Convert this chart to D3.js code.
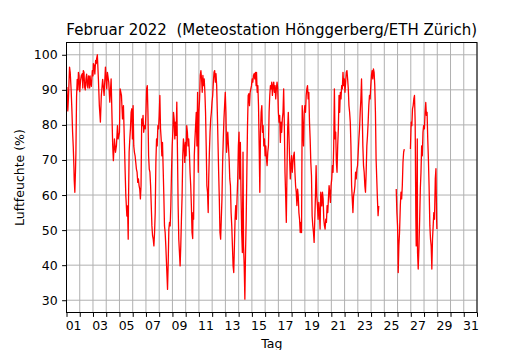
<!DOCTYPE html>
<html>
<head>
<meta charset="utf-8">
<script src="https://cdn.jsdelivr.net/npm/d3@7/dist/d3.min.js"></script>
<style>
  body { margin: 0; background: #fff; }
  svg { font-family: "DejaVu Sans", sans-serif; }
</style>
</head>
<body>
<svg id="chart" width="530" height="350"></svg>
<script>
// Zeit in Tagen ab 1. Februar 00:00, null = Messlücke
const zeit = [
  0.03, 0.10, 0.15, 0.23, 0.28, 0.35, 0.41, 0.46, 0.51, 0.56, 0.58, 0.63, 0.68, 0.71, 0.76, 0.81,
  0.86, 0.90, 0.94, 1.00, 1.06, 1.12, 1.19, 1.23, 1.27, 1.32, 1.37, 1.42, 1.47, 1.52, 1.57, 1.62,
  1.66, 1.70, 1.75, 1.78, 1.82, 1.88, 1.95, 2.00, 2.03, 2.08, 2.14, 2.20, 2.25, 2.28, 2.33, 2.41,
  2.48, 2.56, 2.63, 2.73, 2.84, 2.94, 3.04, 3.09, 3.19, 3.27, 3.37, 3.44, 3.49, 3.54, 3.62, 3.70,
  3.77, 3.85, 3.90, 4.00, 4.05, 4.15, 4.23, 4.30, 4.38, 4.43, 4.48, 4.56, 4.61, 4.66,
  4.68, 4.73, 4.78, 4.83, 4.88, 4.93, 4.98, 5.03, 5.08, 5.13, 5.18, 5.23, 5.28, 5.33, 5.38, 5.43,
  5.48, 5.53, 5.58, 5.63, 5.68, 5.73, 5.78, 5.83, 5.88, 5.95, 6.00, 6.05, 6.10, 6.15, 6.20, 6.25,
  6.30, 6.35, 6.40, 6.45, 6.50, 6.55, 6.60, 6.65, 6.70, 6.75, 6.80, 6.85, 6.90, 6.95, 7.00, 7.05,
  7.10, 7.15, 7.20, 7.25, 7.30, 7.35, 7.40, 7.45, 7.50, 7.55, 7.60, 7.63, 7.68, 7.73, 7.78, 7.83,
  7.88, 7.93, 7.98, 8.03, 8.08, 8.13, 8.18, 8.23, 8.28, 8.33, 8.38, 8.43, 8.48, 8.53, 8.58, 8.63,
  8.68, 8.73, 8.78, 8.83, 8.88, 8.93, 8.98, 9.03, 9.08, 9.13, 9.18, 9.23, 9.28, 9.33, 9.38, 9.43,
  9.48, 9.53, 9.55, 9.60, 9.65, 9.70, 9.75, 9.80, 9.85, 9.90, 9.95, 10.00, 10.05, 10.10, 10.15, 10.20,
  10.25, 10.30, 10.35, 10.40, 10.45, 10.50, 10.55, 10.60, 10.65, 10.70, 10.74, 10.79, 10.84, 10.89, 10.94, 10.99,
  11.04, 11.09, 11.14, 11.19, 11.24, 11.29, 11.34, 11.39, 11.44, 11.49, 11.54, 11.59, 11.64, 11.69, 11.74, 11.79,
  11.84, 11.89, 11.94, 11.99, 12.04, 12.09, 12.14, 12.18, 12.23, 12.28, 12.33, 12.38, 12.43, 12.48, 12.53, 12.58,
  12.63, 12.68, 12.73, 12.78, 12.83, 12.88, 12.93, 12.98, 13.03, 13.08, 13.13, 13.18, 13.23, 13.28, 13.33, 13.37,
  13.42, 13.47, 13.52, 13.57, 13.62, 13.67, 13.72, 13.77, 13.82, 13.87, 13.92, 13.97, 14.02, 14.07, 14.12, 14.17,
  14.22, 14.27, 14.32, 14.35, 14.40, 14.45, 14.50, 14.55, 14.60, 14.65, 14.70, 14.75, 14.80, 14.85, 14.90, 14.95,
  15.00, 15.05, 15.10, 15.15, 15.20, 15.25, 15.30, 15.35, 15.40, 15.45, 15.50, 15.55, 15.60, 15.65, 15.70, 15.75,
  15.80, 15.85, 15.90, 15.95, 16.00, 16.05, 16.10, 16.15, 16.20, 16.25, 16.30, 16.35, 16.40, 16.45, 16.50, 16.55,
  16.60, 16.65, 16.70, 16.75, 16.80, 16.85, 16.90, 16.95, 17.00, 17.05, 17.10, 17.15, 17.20, 17.25, 17.30, 17.35,
  17.40, 17.45, 17.50, 17.55, 17.60, 17.65, 17.70, 17.75, 17.80, 17.85, 17.90, 17.95, 18.00, 18.05, 18.10, 18.15,
  18.20, 18.25, 18.30, 18.35, 18.40, 18.45, 18.50, 18.55, 18.60, 18.65, 18.70, 18.75, 18.80, 18.85, 18.90, 18.95,
  19.00, 19.05, 19.10, 19.15, 19.20, 19.23, 19.28, 19.33, 19.38, 19.43, 19.48, 19.53, 19.58, 19.63, 19.68, 19.73,
  19.78, 19.83, 19.88, 19.93, 19.98, 20.03, 20.08, 20.13, 20.18, 20.23, 20.28, 20.33, 20.38, 20.43, 20.48, 20.53,
  20.58, 20.63, 20.68, 20.73, 20.78, 20.83, 20.88, 20.93, 20.98, 21.03, 21.08, 21.13, 21.18, 21.23, 21.28, 21.33,
  21.38, 21.43, 21.48, 21.53, 21.58, 21.63, 21.68, 21.73, 21.78, 21.83, 21.88, 21.93, 21.98, 22.03, 22.08, 22.13,
  22.18, 22.23, 22.28, 22.33, 22.38, 22.43, 22.48, 22.53, 22.58, 22.63, 22.68, 22.73, 22.78, 22.83, 22.88, 22.93,
  22.98, 23.03, 23.08, 23.13, 23.18, 23.23, 23.28, 23.33, 23.38, 23.43, 23.48, 23.53, 23.58,
  24.20,
  24.90, 24.95, 25.00, 25.03, 25.05, 25.10, 25.15, 25.21, 25.26, 25.31, 25.36, 25.41, 25.46, 25.51,
  25.75,
  25.97, 26.03, 26.08, 26.13, 26.18, 26.23, 26.28, 26.33, 26.36, 26.38, 26.41, 26.44, 26.49, 26.51, 26.56, 26.62,
  26.67, 26.72, 26.77, 26.82, 26.87, 26.92, 26.97, 27.03, 27.08, 27.13, 27.18, 27.23, 27.28, 27.33, 27.38, 27.44,
  27.49, 27.54, 27.59, 27.64, 27.69, 27.74, 27.79, 27.85, 27.90, 27.95, 27.97
];

// relative Luftfeuchte in %
const feuchte = [
  90.8, 84.0, 88.0, 96.5, 95.0, 90.0, 84.0, 78.0, 73.8, 68.0, 64.5, 60.8, 67.0, 72.0, 88.0, 93.0,
  90.0, 95.0, 94.1, 89.5, 92.6, 94.0, 94.6, 90.5, 95.5, 95.0, 90.8, 90.0, 93.1, 94.5, 91.2, 90.5,
  94.0, 93.6, 90.5, 94.0, 92.2, 91.0, 95.5, 94.0, 97.5, 97.0, 94.5, 98.4, 97.5, 99.0, 100.0, 93.0,
  85.5, 80.8, 88.4, 93.0, 88.4, 96.5, 90.3, 95.0, 92.2, 86.5, 93.1, 81.7, 74.0, 69.8, 76.0, 72.2,
  74.0, 79.8, 76.0, 77.9, 90.3, 88.4, 81.7, 85.5, 74.0, 66.5, 59.8, 54.0, 56.9, 47.4,
  57.0, 72.2, 76.0, 79.0, 83.6, 84.6, 76.0, 85.5, 74.0, 72.2, 71.2, 69.3, 67.4, 66.5, 63.6, 64.6,
  62.7, 61.7, 58.9, 62.7, 81.7, 79.8, 82.7, 77.9, 79.8, 78.9, 83.6, 90.3, 91.2, 83.6, 71.2, 67.4,
  66.5, 62.7, 57.0, 51.2, 48.4, 47.4, 45.5, 49.3, 55.0, 69.3, 76.0, 74.0, 79.8, 78.9, 82.7, 88.4,
  78.9, 76.0, 71.2, 75.0, 67.4, 60.0, 51.2, 49.3, 45.5, 40.7, 36.0, 33.1, 40.7, 50.3, 52.2, 51.2,
  57.0, 66.5, 74.0, 77.9, 83.6, 81.7, 76.0, 80.8, 77.0, 86.5, 72.2, 57.0, 47.4, 43.6, 39.8, 45.5,
  53.1, 59.8, 71.2, 76.0, 74.0, 69.3, 75.0, 71.2, 79.8, 77.9, 74.0, 76.0, 72.2, 66.5, 62.7, 57.0,
  49.3, 47.6, 55.0, 53.1, 71.2, 76.0, 79.8, 83.6, 74.0, 89.3, 66.5, 83.6, 87.4, 94.1, 95.5, 93.1,
  89.3, 94.1, 91.2, 93.1, 89.3, 83.6, 74.0, 62.7, 60.8, 55.0, 64.6, 72.2, 77.9, 81.7, 83.6, 86.5,
  88.4, 92.2, 95.0, 95.5, 92.2, 94.6, 91.2, 83.6, 75.0, 66.5, 58.9, 49.3, 47.4, 53.1, 58.9, 69.3,
  76.0, 81.7, 85.5, 89.3, 83.6, 72.2, 76.0, 77.9, 74.0, 70.3, 64.6, 62.7, 55.0, 51.2, 45.5, 39.8,
  37.9, 45.5, 53.1, 57.0, 53.1, 58.9, 64.6, 74.0, 77.9, 64.6, 75.0, 59.8, 49.3, 43.6, 72.2, 45.5,
  39.8, 30.3, 43.6, 53.1, 66.5, 79.8, 88.4, 88.9, 85.5, 89.3, 90.3, 91.2, 93.1, 92.2, 94.1, 94.6,
  93.1, 95.0, 91.2, 95.0, 89.3, 91.2, 85.5, 74.0, 60.8, 77.9, 83.6, 85.5, 77.9, 79.8, 74.0, 76.0,
  71.2, 74.0, 70.3, 68.4, 72.2, 74.0, 83.6, 88.4, 91.2, 90.3, 92.2, 88.4, 91.2, 92.2, 89.3, 91.2,
  87.4, 90.3, 92.2, 90.3, 83.6, 80.8, 82.7, 75.0, 80.8, 77.9, 81.7, 83.6, 90.3, 79.8, 66.5, 59.8,
  52.2, 66.5, 78.9, 83.6, 77.0, 70.3, 64.6, 68.4, 71.2, 66.5, 69.3, 71.2, 72.2, 66.5, 62.7, 60.8,
  57.0, 61.7, 59.8, 55.0, 53.1, 49.3, 52.2, 49.3, 85.5, 78.9, 74.0, 83.6, 85.5, 83.6, 88.4, 90.3,
  91.2, 87.4, 89.3, 80.8, 76.0, 69.3, 65.5, 54.0, 51.2, 49.3, 46.5, 53.1, 59.8, 68.4, 59.8, 57.0,
  53.1, 57.9, 55.0, 50.3, 60.8, 59.8, 56.9, 60.8, 58.9, 53.1, 51.2, 50.3, 53.1, 52.2, 57.0, 55.0,
  58.9, 62.7, 60.8, 57.9, 62.7, 64.6, 68.4, 66.5, 74.0, 90.3, 76.0, 77.9, 69.3, 66.5, 74.0, 78.9,
  88.4, 83.6, 89.3, 87.4, 91.2, 90.3, 95.0, 91.2, 93.1, 89.3, 92.2, 95.0, 95.5, 93.1, 90.3, 85.5,
  83.6, 80.8, 74.0, 62.7, 58.9, 55.0, 59.8, 60.8, 62.7, 66.5, 64.6, 67.4, 68.4, 72.2, 76.0, 78.9,
  83.6, 87.4, 93.1, 83.6, 74.0, 68.4, 66.5, 62.7, 60.8, 66.5, 74.0, 76.9, 80.8, 85.5, 88.4, 87.4,
  91.2, 94.1, 95.5, 93.1, 96.0, 95.0, 91.2, 83.6, 70.3, 64.6, 58.9, 54.1, 56.9,
  null,
  61.7, 55.0, 51.2, 45.5, 37.9, 45.5, 49.3, 57.0, 60.8, 58.9, 62.7, 69.3, 72.2, 73.1,
  null,
  73.1, 80.8, 79.8, 84.6, 85.5, 87.4, 88.4, 80.8, 64.6, 54.0, 45.5, 54.0, 76.0, 43.6, 38.9, 45.5,
  53.1, 61.7, 66.5, 74.0, 71.2, 77.9, 79.8, 78.9, 83.6, 86.4, 82.7, 83.6, 76.0, 70.3, 62.7, 51.2,
  47.4, 45.5, 38.9, 47.4, 51.2, 55.0, 53.1, 64.6, 67.5, 53.1, 50.3
];

const yTicks = [30, 40, 50, 60, 70, 80, 90, 100];
const tagLabels = ["01", "03", "05", "07", "09", "11", "13", "15", "17", "19", "21", "23", "25", "27", "29", "31"];

const margin = { left: 66.5, right: 53, top: 42.5, bottom: 37.5 };
const width = 530 - margin.left - margin.right;
const height = 350 - margin.top - margin.bottom;

const svg = d3.select('#chart');
const g = svg.append('g')
  .attr('transform', 'translate(' + margin.left + ',' + margin.top + ')');

const x = d3.scaleLinear().domain([0, 31]).range([0, width]);
const y = d3.scaleLinear().domain([26.5, 103.5]).range([height, 0]);

// Gitter
g.append('g').selectAll('line')
  .data(yTicks)
  .enter().append('line')
  .attr('x1', 0).attr('x2', width)
  .attr('y1', d => y(d)).attr('y2', d => y(d))
  .attr('stroke', '#b0b0b0').attr('stroke-width', 1);

g.append('g').selectAll('line')
  .data(d3.range(0, 32))
  .enter().append('line')
  .attr('x1', d => x(d)).attr('x2', d => x(d))
  .attr('y1', 0).attr('y2', height)
  .attr('stroke', '#b0b0b0').attr('stroke-width', 1);

// Messreihe
const data = zeit.map((t, i) => ({ t: t, v: feuchte[i] }));

svg.append('defs').append('clipPath').attr('id', 'clip')
  .append('rect').attr('width', width).attr('height', height);

const line = d3.line()
  .defined(d => d.v != null)
  .x(d => x(d.t))
  .y(d => y(d.v));

g.append('path')
  .datum(data)
  .attr('clip-path', 'url(#clip)')
  .attr('fill', 'none')
  .attr('stroke', '#ff0000')
  .attr('stroke-width', 1.3)
  .attr('stroke-linejoin', 'round')
  .attr('d', line);

// Achsen
const yAxis = g.append('g')
  .call(d3.axisLeft(y).tickValues(yTicks).tickSize(4.4).tickPadding(4.4));

const xTicks = g.append('g')
  .attr('transform', 'translate(0,' + height + ')')
  .call(d3.axisBottom(x).tickValues(d3.range(0, 32)).tickSize(4.4).tickFormat(''));

const xLabels = g.append('g')
  .attr('transform', 'translate(0,' + height + ')')
  .call(d3.axisBottom(x)
    .tickValues(tagLabels.map(d => +d - 0.5))
    .tickSize(0).tickPadding(8.8)
    .tickFormat((d, i) => tagLabels[i]));

[yAxis, xTicks, xLabels].forEach(a => {
  a.select('.domain').remove();
  a.selectAll('line').attr('stroke', '#000').attr('stroke-width', 1);
  a.selectAll('text').attr('fill', '#000').style('font-size', '12.5px').style('font-family', '"DejaVu Sans", sans-serif');
});

// Rahmen
g.append('rect')
  .attr('width', width).attr('height', height)
  .attr('fill', 'none')
  .attr('stroke', '#000').attr('stroke-width', 1);

// Beschriftungen
svg.append('text')
  .attr('x', margin.left + width / 2)
  .attr('y', 35)
  .attr('text-anchor', 'middle')
  .style('font-size', '15px')
  .style('white-space', 'pre')
  .text('Februar 2022  (Meteostation Hönggerberg/ETH Zürich)');

svg.append('text')
  .attr('x', margin.left + width / 2)
  .attr('y', 347.5)
  .attr('text-anchor', 'middle')
  .style('font-size', '12.5px')
  .text('Tag');

svg.append('text')
  .attr('transform', 'translate(23.5,' + (margin.top + height / 2) + ') rotate(-90)')
  .attr('text-anchor', 'middle')
  .style('font-size', '12.5px')
  .text('Luftfeuchte (%)');
</script>
</body>
</html>
